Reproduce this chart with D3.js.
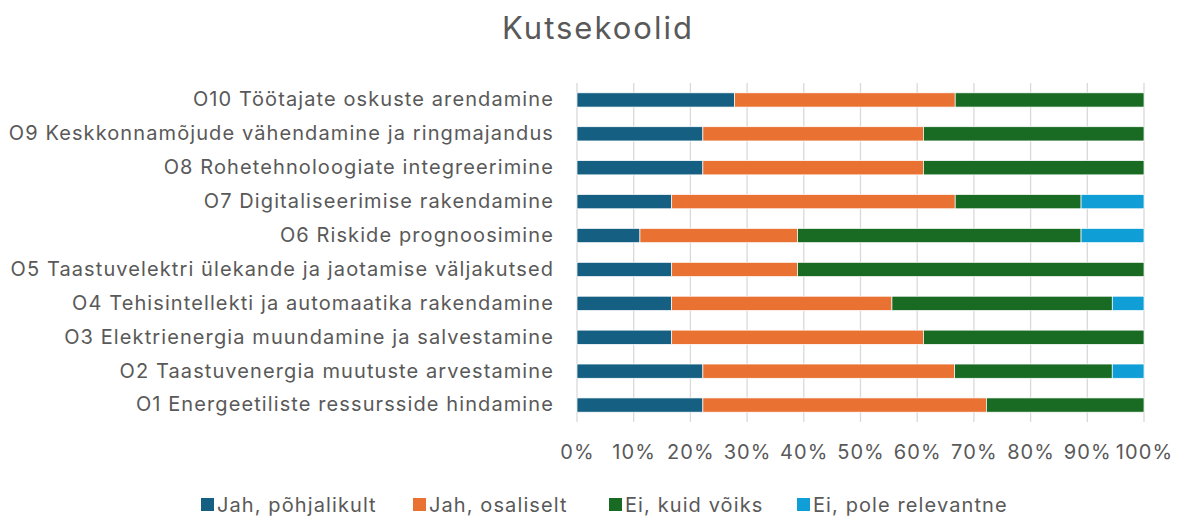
<!DOCTYPE html>
<html><head><meta charset="utf-8">
<script src="https://cdn.jsdelivr.net/npm/d3@7"></script>
<style>body{margin:0;background:#fff}svg{display:block}</style>
</head><body><svg id="c" width="1180" height="517"></svg>
<script>
const categories = [
 "O10 Töötajate oskuste arendamine",
 "O9 Keskkonnamõjude vähendamine ja ringmajandus",
 "O8 Rohetehnoloogiate integreerimine",
 "O7 Digitaliseerimise rakendamine",
 "O6 Riskide prognoosimine",
 "O5 Taastuvelektri ülekande ja jaotamise väljakutsed",
 "O4 Tehisintellekti ja automaatika rakendamine",
 "O3 Elektrienergia muundamine ja salvestamine",
 "O2 Taastuvenergia muutuste arvestamine",
 "O1 Energeetiliste ressursside hindamine"
];
const seriesNames = ["Jah, põhjalikult","Jah, osaliselt","Ei, kuid võiks","Ei, pole relevantne"];
const jahPohjalikult = [27.8,22.2,22.2,16.7,11.1,16.7,16.7,16.7,22.2,22.2];
const jahOsaliselt   = [38.9,38.9,38.9,50.0,27.8,22.2,38.9,44.4,44.4,50.0];
const eiKuidVoiks    = [33.3,38.9,38.9,22.2,50.0,61.1,38.9,38.9,27.8,27.8];
const eiPoleRelev    = [0,0,0,11.1,11.1,0,5.6,0,5.6,0];
const tickValues = [0,0.1,0.2,0.3,0.4,0.5,0.6,0.7,0.8,0.9,1.0];
const colors = ["#156082","#E97132","#196B24","#0F9ED5"];

const svg = d3.select("#c");
const font = "Inter, 'Liberation Sans', Arial, sans-serif";
const txt = "#595959";
const x = d3.scaleLinear().domain([0,1]).range([577,1144]);
const y = d3.scaleBand().domain(categories).range([83,422]).paddingInner(0.58).paddingOuter(0.29);

svg.append("text").attr("x",598).attr("y",39).attr("text-anchor","middle")
  .attr("font-family",font).attr("font-size",31).attr("letter-spacing",2).attr("fill",txt).text("Kutsekoolid");

svg.append("g").selectAll("line").data(tickValues).join("line")
  .attr("x1",d=>x(d)).attr("x2",d=>x(d)).attr("y1",83).attr("y2",422)
  .attr("stroke","#d9d9d9").attr("stroke-width",1.3);

const rows = categories.map((c,i)=>{
  const vals=[jahPohjalikult[i],jahOsaliselt[i],eiKuidVoiks[i],eiPoleRelev[i]];
  const tot=d3.sum(vals); let acc=0;
  return vals.map((v,k)=>{const s=acc/tot; acc+=v; return {c,k,x0:s,x1:acc/tot};});
});
svg.append("g").selectAll("rect").data(rows.flat().filter(d=>d.x1>d.x0)).join("rect")
  .attr("x",d=>x(d.x0)).attr("width",d=>x(d.x1)-x(d.x0))
  .attr("y",d=>y(d.c)).attr("height",y.bandwidth())
  .attr("fill",d=>colors[d.k]).attr("stroke","#fff").attr("stroke-width",0.7);

const ya = svg.append("g").attr("transform","translate(577,0)")
  .call(d3.axisLeft(y).tickSize(0).tickPadding(23));
ya.select(".domain").remove();
ya.selectAll("text").attr("font-family",font).attr("font-size",20).attr("letter-spacing",1.1).attr("fill",txt);

const xa = svg.append("g").attr("transform","translate(0,422)")
  .call(d3.axisBottom(x).tickValues(tickValues).tickFormat(d3.format(".0%")).tickSize(0).tickPadding(23));
xa.select(".domain").remove();
xa.selectAll("text").attr("font-family",font).attr("font-size",20).attr("letter-spacing",1.1).attr("fill",txt);

const lx=[201,413,609,797];
const lg = svg.append("g").selectAll("g").data(seriesNames).join("g")
  .attr("transform",(d,i)=>`translate(${lx[i]},505)`);
lg.append("rect").attr("x",0).attr("y",-7).attr("width",13).attr("height",13).attr("fill",(d,i)=>colors[i]);
lg.append("text").attr("x",16).attr("y",7).attr("font-family",font)
  .attr("font-size",20).attr("letter-spacing",1.1).attr("fill",txt).text(d=>d);
</script></body></html>
